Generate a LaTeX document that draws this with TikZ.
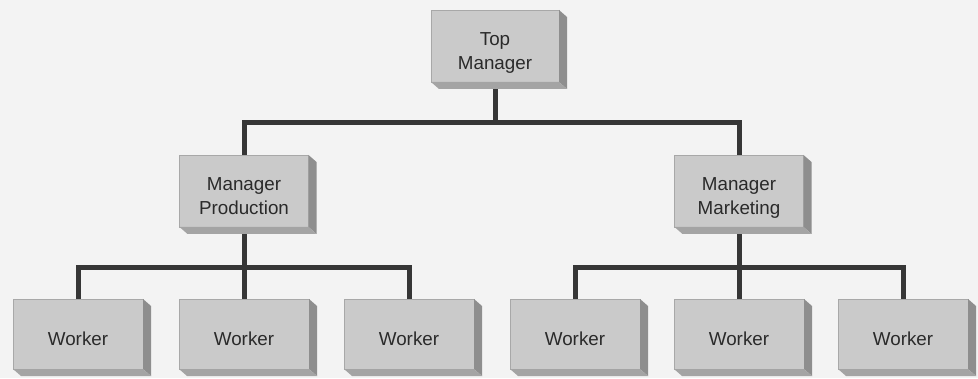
\documentclass[tikz,border=0pt]{standalone}
\usepackage{fontspec}
\setmainfont{Liberation Sans}
\usetikzlibrary{backgrounds}

\definecolor{paper}{HTML}{F3F3F3}
\definecolor{face}{HTML}{CACACA}
\definecolor{faceedge}{HTML}{A8A8A8}
\definecolor{sideface}{HTML}{8E8E8E}
\definecolor{bottomface}{HTML}{A4A4A4}
\definecolor{wire}{HTML}{363636}
\definecolor{ink}{HTML}{2A2A2A}

% box caption: centred lines, set slightly below the middle of the face
\newcommand{\boxtext}[1]{\begin{tabular}{@{}c@{}}\rule{0pt}{30pt}#1\end{tabular}}

\tikzset{
  unit/.style={rectangle, fill=face, draw=faceedge, line width=0.6pt,
    minimum width=129pt, minimum height=72pt, inner sep=0pt, outer sep=0pt,
    text=ink, font=\fontsize{18.8}{24}\selectfont},
  worker/.style={unit, minimum width=130pt, minimum height=70pt},
  conn/.style={draw=wire, line width=5pt, line join=miter},
}

% oblique depth faces of a box node (right side and underside)
\newcommand{\slabdepth}[1]{%
  \fill[sideface] (#1.north east) -- ++(8,-7) -- ([shift={(8,-7)}]#1.south east) -- (#1.south east) -- cycle;
  \fill[bottomface] (#1.south west) -- (#1.south east) -- ([shift={(8,-7)}]#1.south east) -- ([shift={(8,-7)}]#1.south west) -- cycle;
}

\begin{document}
\begin{tikzpicture}[x=1pt, y=1pt]
  \useasboundingbox (0,0) rectangle (978,378);
  \begin{scope}[on background layer]
    \fill[paper] (0,0) rectangle (978,378);
  \end{scope}

  % levels of the hierarchy
  \node[unit, minimum width=128pt] (top) at (495,332) {\boxtext{Top\\Manager}};

  \node[unit] (prod) at (244,187) {\boxtext{Manager\\Production}};
  \node[unit] (mkt)  at (739,187) {\boxtext{Manager\\Marketing}};

  \node[worker] (w1) at (78,44)  {\boxtext{Worker}};
  \node[worker] (w2) at (244,44) {\boxtext{Worker}};
  \node[worker] (w3) at (409,44) {\boxtext{Worker}};
  \node[worker] (w4) at (575,44) {\boxtext{Worker}};
  \node[worker] (w5) at (739,44) {\boxtext{Worker}};
  \node[worker] (w6) at (903,44) {\boxtext{Worker}};

  \foreach \n in {top,prod,mkt,w1,w2,w3,w4,w5,w6} {\slabdepth{\n}}

  % junction heights of the two bus bars
  \coordinate (busA) at (0,255);
  \coordinate (busB) at (0,110);

  \begin{scope}[on background layer]
    \draw[conn] (top.south) -- (top.south |- busA);
    \draw[conn] (prod.north) -- (prod.north |- busA) -- (mkt.north |- busA) -- (mkt.north);

    \draw[conn] (prod.south) -- (prod.south |- busB);
    \draw[conn] (w1.north) -- (w1.north |- busB) -- (w3.north |- busB) -- (w3.north);
    \draw[conn] (w2.north) -- (w2.north |- busB);

    \draw[conn] (mkt.south) -- (mkt.south |- busB);
    \draw[conn] (w4.north) -- (w4.north |- busB) -- (w6.north |- busB) -- (w6.north);
    \draw[conn] (w5.north) -- (w5.north |- busB);
  \end{scope}
\end{tikzpicture}
\end{document}
